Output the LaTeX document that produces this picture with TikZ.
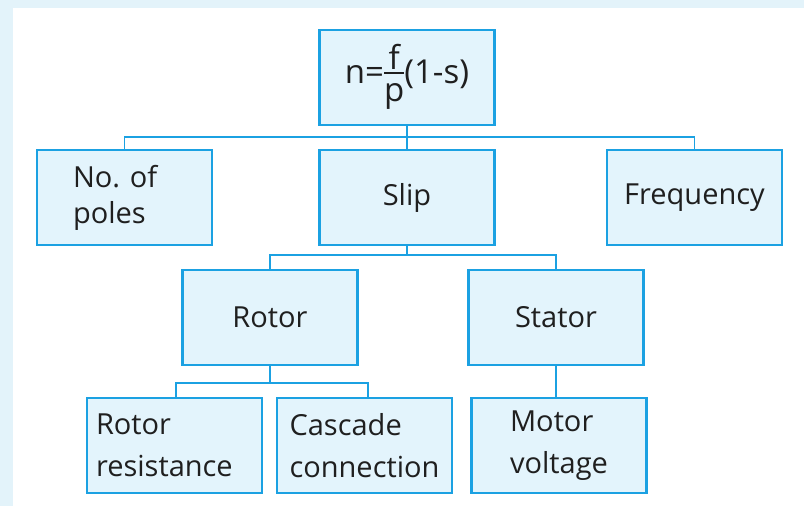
\documentclass[tikz,border=0pt]{standalone}
\usepackage{fontspec}
\setmainfont{Open Sans}
\usepackage{tikz}
\usetikzlibrary{positioning}

\definecolor{boxline}{HTML}{1BA1E2}
\definecolor{boxfill}{HTML}{E3F4FC}
\definecolor{paper}{HTML}{E3F3FA}

\begin{document}
\begin{tikzpicture}[
  x=1pt, y=-1pt,
  box/.style={draw=boxline, fill=boxfill, line width=2.4pt,
    minimum width=175pt, minimum height=95pt, inner sep=0pt,
    align=left, text=black!88, font=\fontsize{29}{42}\selectfont},
  link/.style={draw=boxline, line width=1.3pt},
]
\useasboundingbox (0,0) rectangle (804,506);
\fill[paper] (0,0) rectangle (804,8);
\fill[paper] (0,0) rectangle (13,506);

% --- formula on top ---
\node[box, font=\fontsize{33}{40}\selectfont] (speed) at (407, 77.5)
  {n=\setlength{\arrayrulewidth}{1.5pt}%
  \begin{tabular}{@{}c@{}}f\\[-9pt]\hline p\end{tabular}(1-s)};

% --- second row ---
\node[box, text width=103pt, font=\fontsize{29}{36}\selectfont] (poles)
  at (124.5, 197.5) {No.\ of\\poles};
\node[box] (slip)  at (407, 197.5)   {Slip};
\node[box] (freq)  at (694.5, 197.5) {Frequency};

% --- third row ---
\node[box] (rotor)  at (270, 317.5) {Rotor};
\node[box] (stator) at (556, 317.5) {Stator};

% --- bottom row ---
\node[box, text width=157pt] (rres) at (174.5, 445.5) {Rotor\\resistance};
\node[box] (casc) at (364.5, 445.5) {Cascade\\connection};
\node[box] (motv) at (559, 445.5)   {Motor\\voltage};

% bus lines
\coordinate (busA) at (407, 137);
\coordinate (busB) at (407, 255);
\coordinate (busC) at (270, 383);

\draw[link] (speed.south) -- (busA);
\draw[link] (poles.north) |- (busA) -| (freq.north);
\draw[link] (busA) -- (slip.north);

\draw[link] (slip.south) -- (busB);
\draw[link] (rotor.north) |- (busB) -| (stator.north);

\draw[link] (rotor.south) -- (busC);
\draw[link] ([xshift=1.5pt]rres.north) |- (busC) -| ([xshift=3.5pt]casc.north);

\draw[link] (stator.south) -- (stator.south |- motv.north);
\end{tikzpicture}
\end{document}
